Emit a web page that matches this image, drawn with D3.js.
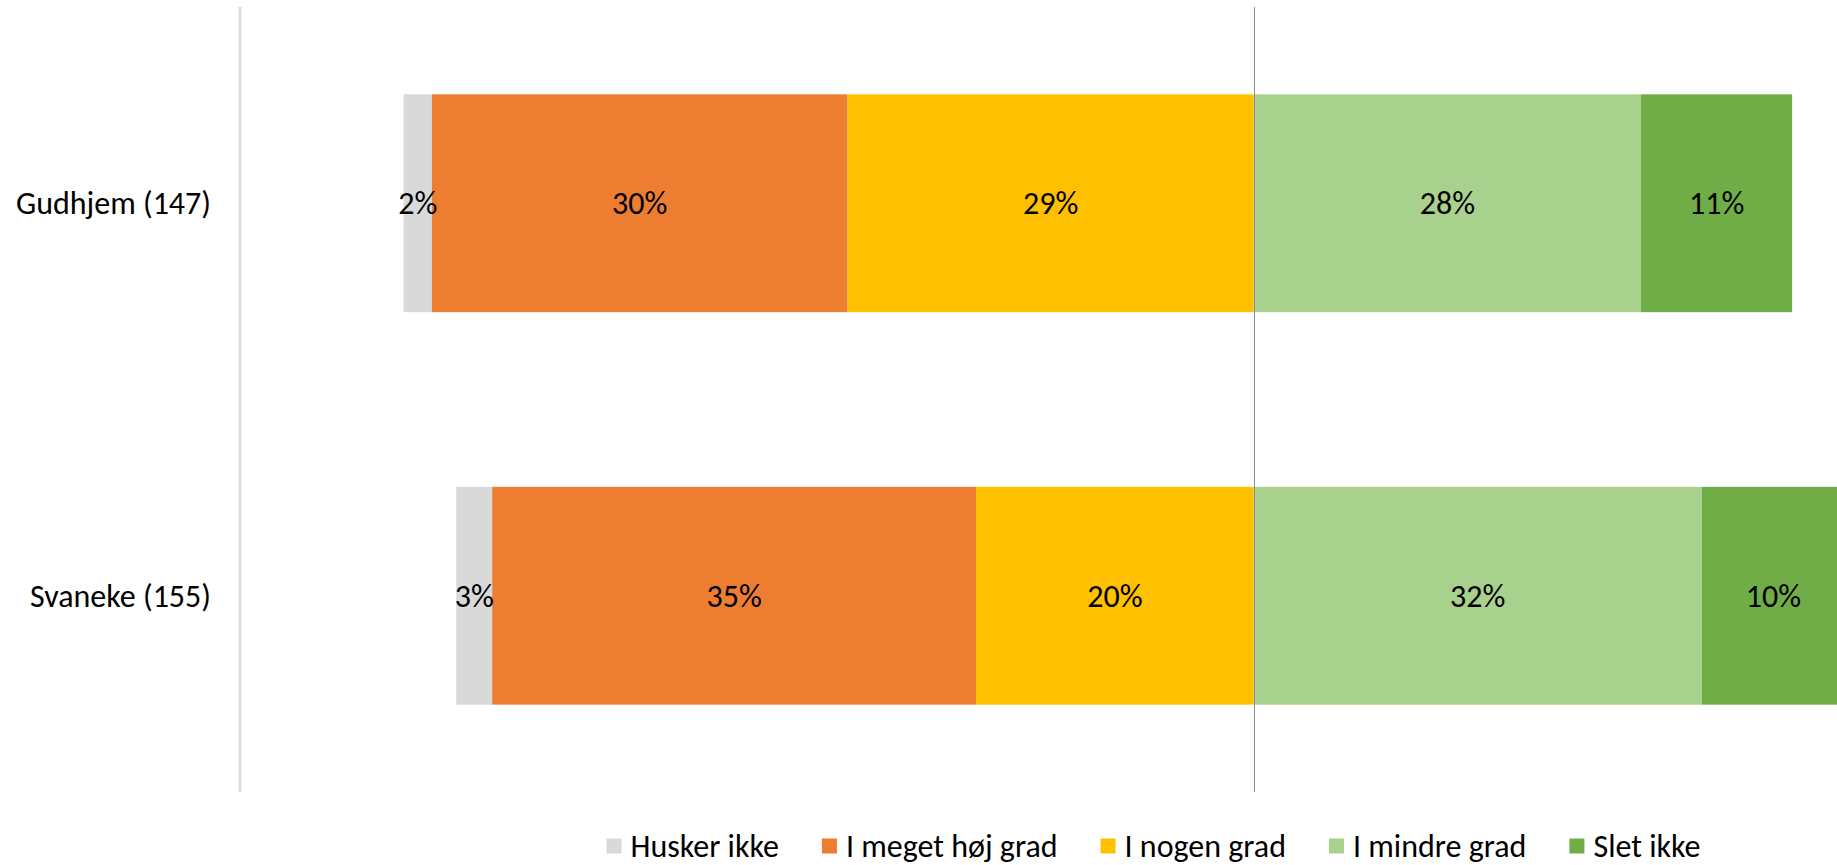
<!DOCTYPE html>
<html>
<head>
<meta charset="utf-8">
<script src="https://cdn.jsdelivr.net/npm/d3@7"></script>
<style>
  html, body { margin: 0; padding: 0; background: #fff; }
  svg { display: block; }
  text { font-family: Calibri, Carlito, "Liberation Sans", Arial, sans-serif; fill: #000; }
</style>
</head>
<body>
<svg id="chart" width="1837" height="865"></svg>
<script>
// ---- data ----
const categories = ["Gudhjem (147)", "Svaneke (155)"];
const seriesNames = ["Husker ikke", "I meget høj grad", "I nogen grad", "I mindre grad", "Slet ikke"];
const huskerIkke   = [2.04, 2.59];
const meget        = [29.93, 34.84];
const nogen        = [29.25, 20.00];
const mindre       = [27.89, 32.26];
const sletIkke     = [10.88, 10.32];
const labelsShown  = [["2%", "30%", "29%", "28%", "11%"], ["3%", "35%", "20%", "32%", "10%"]];
const colors = ["#D9D9D9", "#ED7D31", "#FFC000", "#A9D18E", "#70AD47"];

const W = 1837, H = 865;
const svg = d3.select("#chart");
const FONT = 32;

const x = d3.scaleLinear().domain([-73, 42]).range([240, 1837]);
const y = d3.scaleBand().domain(categories).range([7, 792]).paddingInner(0.445).paddingOuter(0.2225);

const segs = [];
categories.forEach((c, i) => {
  const vals = [huskerIkke[i], meget[i], nogen[i], mindre[i], sletIkke[i]];
  let n2 = -vals[2], n1 = n2 - vals[1], n0 = n1 - vals[0];
  segs.push({cat: c, s: 0, x0: n0, x1: n1, label: labelsShown[i][0]});
  segs.push({cat: c, s: 1, x0: n1, x1: n2, label: labelsShown[i][1]});
  segs.push({cat: c, s: 2, x0: n2, x1: 0, label: labelsShown[i][2]});
  segs.push({cat: c, s: 3, x0: 0, x1: vals[3], label: labelsShown[i][3]});
  segs.push({cat: c, s: 4, x0: vals[3], x1: vals[3] + vals[4], label: labelsShown[i][4]});
});

svg.append("defs").append("clipPath").attr("id", "clip")
  .append("rect").attr("x", 0).attr("y", 0).attr("width", W).attr("height", H);

const g = svg.append("g").attr("clip-path", "url(#clip)");

g.selectAll("rect.bar").data(segs).enter().append("rect")
  .attr("class", "bar")
  .attr("x", d => x(d.x0))
  .attr("width", d => x(d.x1) - x(d.x0))
  .attr("y", d => y(d.cat))
  .attr("height", y.bandwidth())
  .attr("fill", d => colors[d.s]);

svg.append("line")
  .attr("x1", x(-73)).attr("x2", x(-73))
  .attr("y1", 7).attr("y2", 792)
  .attr("stroke", "#D9D9D9").attr("stroke-width", 2.5);

svg.append("line")
  .attr("x1", Math.round(x(0)) + 0.5).attr("x2", Math.round(x(0)) + 0.5)
  .attr("y1", 7).attr("y2", 792)
  .attr("stroke", "#8C8C8C").attr("stroke-width", 1);

g.selectAll("text.lbl").data(segs).enter().append("text")
  .attr("class", "lbl")
  .attr("x", d => (x(d.x0) + x(d.x1)) / 2)
  .attr("y", d => y(d.cat) + y.bandwidth() / 2)
  .attr("dy", "0.35em")
  .attr("text-anchor", "middle")
  .attr("font-size", FONT)
  .text(d => d.label);

svg.selectAll("text.cat").data(categories).enter().append("text")
  .attr("class", "cat")
  .attr("x", 211)
  .attr("y", d => y(d) + y.bandwidth() / 2)
  .attr("dy", "0.35em")
  .attr("text-anchor", "end")
  .attr("font-size", FONT)
  .text(d => d);

const legend = svg.append("g");
const items = legend.selectAll("g.item").data(seriesNames).enter().append("g").attr("class", "item");
items.append("rect").attr("width", 15).attr("height", 15).attr("y", -7.5).attr("fill", (d, i) => colors[i]);
items.append("text").attr("x", 24).attr("dy", "0.35em").attr("font-size", FONT).text(d => d);
const gap = 43;
const widths = items.nodes().map(n => 24 + d3.select(n).select("text").node().getComputedTextLength());
const total = d3.sum(widths) + gap * (widths.length - 1);
const start = 1153.5 - total / 2;
items.attr("transform", (d, i) => `translate(${start + d3.sum(widths.slice(0, i)) + gap * i},846)`);
</script>
</body>
</html>
